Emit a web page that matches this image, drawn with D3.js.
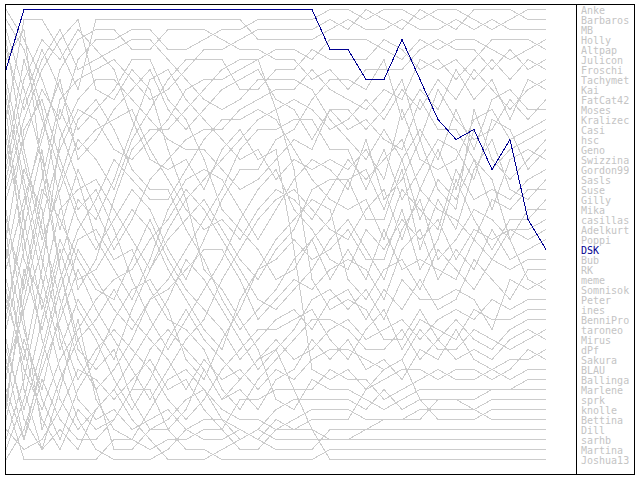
<!DOCTYPE html>
<html>
<head>
<meta charset="utf-8">
<script src="https://cdn.jsdelivr.net/npm/d3@7"></script>
<style>
  body { margin: 0; background: #fff; }
  svg { display: block; }
</style>
</head>
<body>
<div id="chart"></div>
<script>
// ranking per round, one array per player (listed in final order)
const players = ["Anke", "Barbaros", "MB", "Holly", "Altpap", "Julicon", "Froschi", "Tachymet", "Kai", "FatCat42",
  "Moses", "Kralizec", "Casi", "hsc", "Geno", "Swizzina", "Gordon99", "Sasls", "Suse", "Gilly",
  "Mika", "casillas", "Adelkurt", "Poppi", "DSK", "Bub", "RK", "meme", "Somnisok", "Peter",
  "ines", "BenniPro", "taroneo", "Mirus", "dPf", "Sakura", "BLAU", "Ballinga", "Marlene", "sprk",
  "knolle", "Bettina", "Dill", "sarhb", "Martina", "Joshua13"];

const highlight = "DSK";

const ranks = [
  [20,14,9,12,6, 4,4,3,3,5, 5,4,3,3,2, 2,2,2,1,1, 2,1,1,2,1, 1,2,3,2,1, 1],
  [33,25,18,10,8, 7,6,8,10,9, 7,5,5,4,3, 3,3,3,2,3, 1,2,3,1,2, 3,1,1,1,2, 2],
  [12,2,2,5,9, 2,2,2,2,2, 2,2,2,2,4, 4,4,4,3,2, 3,3,2,3,3, 2,3,2,3,3, 3],
  [40,30,22,15,11, 12,15,16,14,12, 9,8,8,7,6, 5,5,6,4,4, 4,5,6,4,5, 4,4,5,6,5, 4],
  [8,16,24,19,14, 16,19,14,11,8, 6,6,6,9,9, 7,7,5,6,6, 6,4,5,7,6, 8,6,4,4,4, 5],
  [27,20,14,7,4, 3,3,5,5,3, 3,3,4,5,5, 6,6,8,7,9, 7,7,7,5,4, 5,5,7,5,7, 6],
  [3,9,16,23,17, 21,25,22,18,16, 14,13,13,11,10, 9,9,7,9,10, 11,9,10,6,7, 6,8,6,8,6, 7],
  [44,38,29,21,19, 18,21,24,27,23, 20,18,16,14,12, 11,10,11,13,12, 10,12,9,11,8, 10,7,9,11,9, 8],
  [16,6,12,17,22, 25,22,19,21,25, 28,24,20,17,17, 14,13,10,8,8, 9,6,12,9,11, 7,10,8,12,8, 9],
  [30,36,27,14,10, 8,8,10,12,14, 15,15,17,19,18, 16,14,15,11,11, 13,11,8,14,9, 12,14,13,10,12, 10],
  [5,11,6,3,7, 6,5,4,4,6, 8,10,11,10,8, 8,8,9,12,14, 16,13,16,13,16, 11,15,10,9,11, 11],
  [38,27,33,26,20, 22,18,13,8,7, 10,12,14,16,15, 18,16,17,16,17, 15,18,11,16,17, 16,12,11,14,13, 12],
  [22,29,20,11,15, 13,12,11,15,18, 21,23,22,24,21, 19,20,22,19,16, 18,16,14,19,15, 19,13,17,15,14, 13],
  [1,4,8,13,18, 24,27,30,26,21, 18,17,18,21,24, 21,18,16,17,19, 14,20,18,14,19, 21,11,16,18,16, 14],
  [42,34,39,31,25, 28,31,33,30,28, 25,22,19,15,13, 13,12,12,15,15, 19,15,20,17,14, 15,18,12,13,17, 15],
  [10,19,28,35,30, 33,36,31,27,24, 22,20,23,26,28, 25,23,19,18,18, 17,21,16,22,18, 20,16,21,16,15, 16],
  [35,41,35,28,23, 20,16,18,20,20, 17,14,12,12,11, 12,15,18,20,21, 20,24,19,21,23, 17,20,19,20,18, 17],
  [18,10,5,9,13, 11,9,6,6,10, 12,16,21,23,25, 28,27,24,22,18, 22,22,17,25,20, 23,17,14,19,20, 18],
  [46,43,37,32,27, 31,34,37,40,37, 34,32,28,25,22, 20,19,21,23,24, 21,19,24,19,21, 22,24,20,21,19, 19],
  [13,22,31,24,28, 27,24,21,23,27, 30,33,35,30,27, 26,24,26,25,23, 26,26,21,27,24, 18,22,25,22,22, 20],
  [29,37,41,36,33, 30,28,27,24,22, 19,21,24,27,30, 31,29,27,24,22, 25,28,23,20,26, 24,21,22,24,21, 21],
  [24,13,10,16,21, 19,23,28,32,35, 32,29,26,22,19, 17,21,23,26,27, 23,25,22,24,22, 26,23,24,23,23, 22],
  [37,31,25,18,12, 10,13,17,19,19, 23,26,30,33,31, 29,26,24,28,25, 28,23,27,26,27, 28,24,26,23,24, 23],
  [4,15,23,30,36, 39,37,34,30,29, 27,25,25,28,32, 30,28,29,27,26, 27,30,25,23,28, 25,27,23,26,25, 24],
  [7,1,1,1,1, 1,1,1,1,1, 1,1,1,1,1, 1,1,1,5,5, 8,8,4,8,12, 14,13,17,14,22, 25],
  [25,33,40,44,39, 36,32,29,28,31, 36,38,34,31,27, 24,22,20,21,28, 30,27,26,29,25, 27,29,26,27,26, 26],
  [41,28,19,22,26, 29,30,26,22,26, 29,31,33,36,34, 32,31,33,30,29, 32,29,31,28,31, 30,26,28,30,27, 27],
  [14,24,34,40,43, 41,39,36,33,30, 26,28,31,34,37, 35,33,30,29,31, 29,32,28,30,30, 29,30,33,28,29, 28],
  [32,21,13,8,16, 14,11,9,7,11, 13,11,9,8,7, 10,11,14,11,13, 12,14,15,10,13, 13,16,18,24,28, 29],
  [45,40,32,25,31, 34,38,41,38,34, 31,34,36,38,36, 34,36,35,33,32, 34,33,32,34,32, 31,32,30,31,30, 30],
  [9,18,26,33,38, 35,33,35,37,40, 42,40,37,35,33, 33,32,31,34,36, 33,31,35,32,33, 34,31,32,32,31, 31],
  [36,44,36,29,24, 23,26,25,29,32, 33,35,39,41,38, 36,34,32,32,33, 35,35,33,36,34, 32,34,35,33,32, 32],
  [21,32,43,38,34, 32,29,32,34,36, 39,36,38,37,39, 37,38,36,35,35, 36,37,36,33,35, 35,33,34,35,34, 33],
  [2,5,11,20,29, 26,20,15,13,13, 11,9,7,6,6, 11,17,28,31,30, 31,34,34,31,34, 36,35,36,34,33, 34],
  [28,35,42,45,41, 43,42,39,35,33, 35,37,40,39,41, 38,37,34,36,34, 37,36,38,35,36, 33,36,37,36,36, 35],
  [17,8,4,6,3, 5,7,12,16,17, 16,19,15,13,16, 15,25,37,38,37, 39,38,37,37,38, 37,37,38,37,35, 36],
  [43,45,44,41,37, 38,40,38,36,39, 38,41,43,40,40, 39,39,39,37,38, 38,40,39,38,37, 38,38,37,38,37, 37],
  [19,12,7,4,2, 9,10,7,9,15, 20,27,29,32,35, 40,41,38,39,39, 40,41,40,39,39, 39,39,39,39,38, 38],
  [31,23,15,27,35, 37,35,40,43,42, 40,39,42,44,43, 41,40,40,40,40, 41,39,41,40,40, 40,40,39,39,39, 39],
  [34,42,45,39,32, 40,43,44,41,38, 37,39,41,42,42, 43,42,41,41,41, 42,42,42,41,41, 41,41,40,40,40, 40],
  [26,17,21,34,40, 42,41,43,42,41, 43,44,44,43,44, 42,43,42,42,42, 39,37,36,40,42, 42,42,41,41,41, 41],
  [39,44,38,42,44, 44,42,39,39,43, 41,37,40,38,36, 35,39,43,44,44, 43,42,42,42,40, 40,41,42,42,42, 42],
  [11,26,30,37,42, 45,46,46,46,45, 43,42,42,43,44, 45,45,45,43,43, 43,43,43,43,43, 43,43,43,43,43, 43],
  [23,39,45,43,45, 41,39,42,44,46, 46,46,45,44,43, 44,44,44,44,44, 44,44,44,44,44, 44,44,44,44,44, 44],
  [6,3,17,27,34, 39,45,45,43,43, 45,45,46,46,46, 46,46,46,45,45, 45,45,45,45,45, 45,45,45,45,45, 45],
  [40,46,46,46,46, 46,44,44,45,44, 44,43,43,45,45, 43,43,43,46,46, 46,46,46,46,46, 46,46,46,46,46, 46]
];

const W = 640, H = 480;
const svg = d3.select("#chart").append("svg")
  .attr("width", W).attr("height", H);

const rounds = d3.range(ranks[0].length);

const x = d3.scaleLinear().domain([0, rounds.length - 1]).range([6, 546]);
const y = d3.scaleLinear().domain([1, players.length]).range([9.5, 459.5]);

const line = d3.line()
  .x((d, i) => x(i))
  .y(d => y(d));

const series = players.map((name, i) => ({ name: name, values: ranks[i] }));

// grey first, highlighted player on top
const ordered = series.filter(s => s.name !== highlight)
  .concat(series.filter(s => s.name === highlight));

svg.append("g").selectAll("path").data(ordered).enter().append("path")
  .attr("d", d => line(d.values))
  .attr("fill", "none")
  .attr("stroke", d => d.name === highlight ? "#000090" : "#cccccc")
  .attr("stroke-width", 1)
  .attr("shape-rendering", "crispEdges");

// frame and legend separator
svg.append("rect")
  .attr("x", 5.5).attr("y", 4.5)
  .attr("width", 629).attr("height", 470)
  .attr("fill", "none").attr("stroke", "#000");

svg.append("line")
  .attr("x1", 576.5).attr("x2", 576.5)
  .attr("y1", 4.5).attr("y2", 474.5)
  .attr("stroke", "#000");

svg.append("g").selectAll("text").data(series).enter().append("text")
  .attr("x", 581)
  .attr("y", (d, i) => y(i + 1) + 4)
  .attr("font-family", "DejaVu Sans Mono, monospace")
  .attr("font-size", "10px")
  .attr("fill", d => d.name === highlight ? "#000090" : "#c4c4c4")
  .text(d => d.name);
</script>
</body>
</html>
